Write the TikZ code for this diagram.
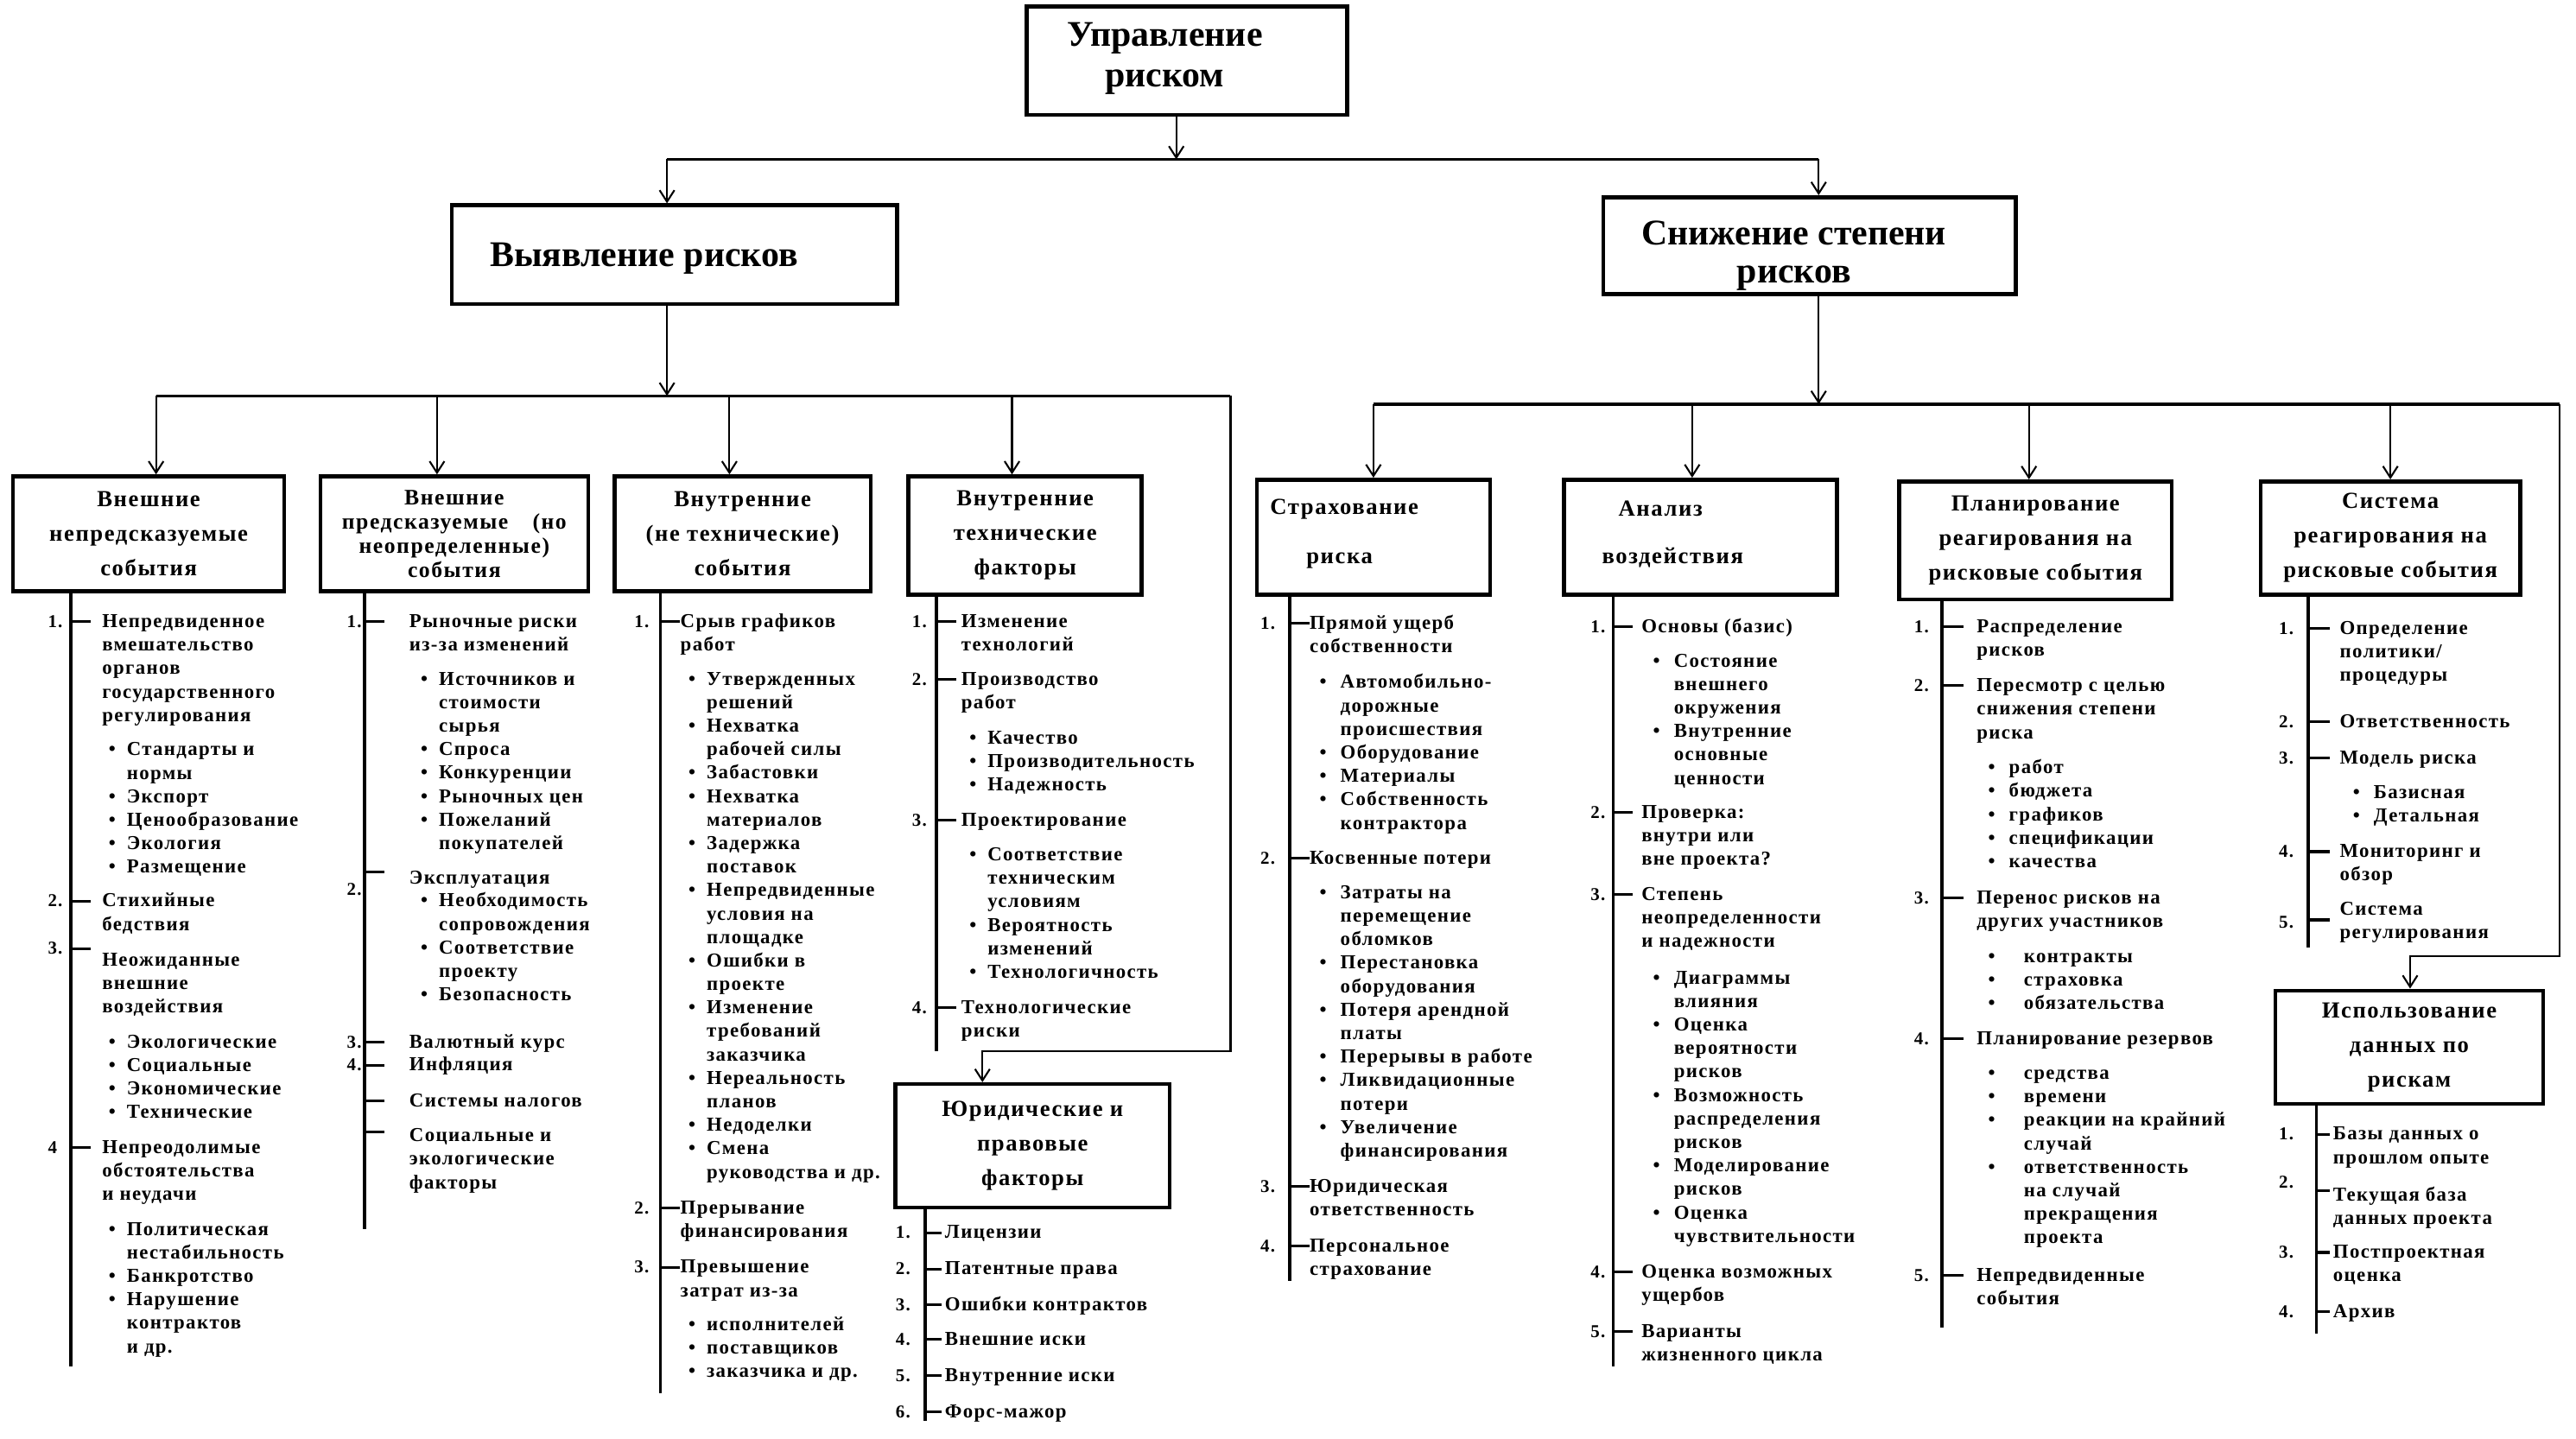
\documentclass[tikz,border=0pt]{standalone}
\usepackage{fontspec}
\usetikzlibrary{arrows.meta}
\newfontfamily\bodyfont[LetterSpace=6]{Liberation Serif Bold}
\newfontfamily\topfont{Liberation Serif Bold}
\newcommand\txtl[1]{\begin{tabular}[t]{@{}l@{}}#1\end{tabular}}
\newcommand\txtc[1]{\begin{tabular}[t]{@{}c@{}}#1\end{tabular}}
\newcommand\bul[1][11pt]{\makebox[#1][l]{•}}
\newcommand\nbul[1][11pt]{\hspace*{#1}}
\tikzset{
  box/.style={draw, line width=2.4pt, inner sep=0pt, align=center, font=\bodyfont\fontsize{14}{21}\selectfont},
  topbox/.style={draw, line width=2.4pt, inner sep=0pt},
  toptxt/.style={anchor=base, inner sep=0pt, font=\topfont\fontsize{22}{25}\selectfont},
  btxt/.style={anchor=base west, inner sep=0pt, font=\bodyfont\fontsize{14}{21}\selectfont},
  txt/.style={anchor=base west, inner sep=0pt, font=\bodyfont\fontsize{12}{14.3}\selectfont},
  num/.style={anchor=base west, inner sep=0pt, font=\bodyfont\fontsize{11}{13}\selectfont},
  arr/.style={line width=1.1pt, -{Straight Barb[length=7pt,width=9pt]}},
  barln/.style={line width=1.8pt},
  colline/.style={line width=2pt},
  tickln/.style={line width=1.6pt}
}
\begin{document}
\begin{tikzpicture}[x=1pt,y=-1pt]
\useasboundingbox (0,0) rectangle (1568,876);

% ---------- top level ----------
\node[topbox, minimum width=195pt, minimum height=66pt] (top) at (722.5,37) {};
\node[toptxt] (toptx) at (709,28) {\txtc{Управление\\риском}};
\node[topbox, minimum width=271pt, minimum height=60pt] (L) at (410.5,155) {};
\node[toptxt] (Ltx) at (392,162) {Выявление рисков};
\node[topbox, minimum width=251pt, minimum height=59pt] (R) at (1101.5,149.5) {};
\node[toptxt] (Rtx) at (1092,149) {\txtc{Снижение степени\\[-2pt]рисков}};

\coordinate (j0) at (716,97);
\coordinate (j0l) at (406,97);
\coordinate (j0r) at (1107,97);
\draw[arr] (top.south -| j0) -- (j0);
\draw[barln] (j0l) -- (j0r);
\draw[arr] (j0l) -- (j0l |- L.north);
\draw[arr] (j0r) -- (j0r |- R.north);

% ---------- second level boxes ----------
\node[box, minimum width=165pt, minimum height=70pt] (b1) at (90.5,325) {Внешние\\непредсказуемые\\события};
\node[box, minimum width=163pt, minimum height=70pt, font=\bodyfont\fontsize{13.5}{14.7}\selectfont] (b2) at (276.5,325) {Внешние\\предсказуемые\hspace{1.1em}(но\\неопределенные)\\события};
\node[box, minimum width=156pt, minimum height=70pt] (b3) at (452,325) {Внутренние\\(не технические)\\события};
\node[box, minimum width=142pt, minimum height=72pt] (b4) at (624,326) {Внутренние\\технические\\факторы};
\node[box, minimum width=167pt, minimum height=75pt] (bj) at (628.5,697.5) {Юридические и\\правовые\\факторы};

\node[box, minimum width=142pt, minimum height=70pt] (b5) at (836,327) {};
\node[btxt] (b5ta) at (773,313) {Страхование};
\node[btxt] (b5tb) at (795,343) {риска};
\node[box, minimum width=166pt, minimum height=70pt] (b6) at (1035,327) {};
\node[btxt] (b6ta) at (985,314) {Анализ};
\node[btxt] (b6tb) at (975,343) {воздействия};
\node[box, minimum width=166pt, minimum height=72pt] (b7) at (1239,329) {Планирование\\реагирования на\\рисковые события};
\node[box, minimum width=158pt, minimum height=69pt] (b8) at (1455,327.5) {Система\\реагирования на\\рисковые события};
\node[box, minimum width=163pt, minimum height=69pt] (b9) at (1466.5,637.5) {Использование\\данных по\\рискам};

% ---------- left branch connectors ----------
\coordinate (j1) at (406,241);
\coordinate (j1a) at (95,241);
\coordinate (j1b) at (266,241);
\coordinate (j1c) at (444,241);
\coordinate (j1d) at (616,241);
\coordinate (j1e) at (749,241);
\coordinate (j1k) at (749,640);
\coordinate (j1m) at (598,640);
\draw[arr] (L.south -| j1) -- (j1);
\draw[barln] (j1a) -- (j1e);
\draw[arr] (j1a) -- (j1a |- b1.north);
\draw[arr] (j1b) -- (j1b |- b2.north);
\draw[arr] (j1c) -- (j1c |- b3.north);
\draw[arr] (j1d) -- (j1d |- b4.north);
\draw[arr] (j1e) -- (j1k) -- (j1m) -- (j1m |- bj.north);

% ---------- right branch connectors ----------
\coordinate (j2) at (1107,246);
\coordinate (j2a) at (836,246);
\coordinate (j2b) at (1030,246);
\coordinate (j2c) at (1235,246);
\coordinate (j2d) at (1455,246);
\coordinate (j2e) at (1558,246);
\coordinate (j2k) at (1558,582);
\coordinate (j2m) at (1467,582);
\draw[arr] (R.south -| j2) -- (j2);
\draw[barln] (j2a) -- (j2e);
\draw[arr] (j2a) -- (j2a |- b5.north);
\draw[arr] (j2b) -- (j2b |- b6.north);
\draw[arr] (j2c) -- (j2c |- b7.north);
\draw[arr] (j2d) -- (j2d |- b8.north);
\draw[arr] (j2e) -- (j2k) -- (j2m) -- (j2m |- b9.north);

% ---------- column 1 ----------
\coordinate (L1) at (43,832);
\node[num] (n1a) at (29,382) {1.};
\node[txt] (t1a) at (62,382) {\txtl{Непредвиденное\\вмешательство\\органов\\государственного\\регулирования}};
\node[txt] (t1b) at (66,460) {\txtl{\bul Стандарты и\\\nbul нормы\\\bul Экспорт\\\bul Ценообразование\\\bul Экология\\\bul Размещение}};
\node[num] (n1b) at (29,552) {2.};
\node[txt] (t1c) at (62,552) {\txtl{Стихийные\\бедствия}};
\node[num] (n1c) at (29,581) {3.};
\node[txt] (t1d) at (62,588) {\txtl{Неожиданные\\внешние\\воздействия}};
\node[txt] (t1e) at (66,638) {\txtl{\bul Экологические\\\bul Социальные\\\bul Экономические\\\bul Технические}};
\node[num] (n1d) at (29,702) {4};
\node[txt] (t1f) at (62,702) {\txtl{Непреодолимые\\обстоятельства\\и неудачи}};
\node[txt] (t1g) at (66,752) {\txtl{\bul Политическая\\\nbul нестабильность\\\bul Банкротство\\\bul Нарушение\\\nbul контрактов\\\nbul и др.}};
\draw[colline] (b1.south -| L1) -- (L1);
\foreach \n in {n1a,n1b,n1c,n1d} \draw[tickln] (L1 |- \n) -- ++(12,0);

% ---------- column 2 ----------
\coordinate (L2) at (222,748);
\node[num] (n2a) at (211,382) {1.};
\node[txt] (t2a) at (249,382) {\txtl{Рыночные риски\\из-за изменений}};
\node[txt] (t2b) at (256,417) {\txtl{\bul Источников и\\\nbul стоимости\\\nbul сырья\\\bul Спроса\\\bul Конкуренции\\\bul Рыночных цен\\\bul Пожеланий\\\nbul покупателей}};
\coordinate (k2b) at (222,531);
\node[num] (n2b) at (211,545) {2.};
\node[txt] (t2c) at (249,538) {Эксплуатация};
\node[txt] (t2d) at (256,552) {\txtl{\bul Необходимость\\\nbul сопровождения\\\bul Соответствие\\\nbul проекту\\\bul Безопасность}};
\node[num] (n2c) at (211,638) {3.};
\node[txt] (t2e) at (249,638) {Валютный курс};
\node[num] (n2d) at (211,652) {4.};
\node[txt] (t2f) at (249,652) {Инфляция};
\coordinate (k2e) at (222,670);
\node[txt] (t2g) at (249,674) {Системы налогов};
\coordinate (k2f) at (222,689);
\node[txt] (t2h) at (249,695) {\txtl{Социальные и\\экологические\\факторы}};
\draw[colline] (b2.south -| L2) -- (L2);
\foreach \n in {n2a,k2b,n2c,n2d,k2e,k2f} \draw[tickln] (L2 |- \n) -- ++(12,0);

% ---------- column 3 ----------
\coordinate (L3) at (402,848);
\node[num] (n3a) at (386,382) {1.};
\node[txt] (t3a) at (414,382) {\txtl{Срыв графиков\\работ}};
\node[txt] (t3b) at (419,417) {\txtl{\bul Утвержденных\\\nbul решений\\\bul Нехватка\\\nbul рабочей силы\\\bul Забастовки\\\bul Нехватка\\\nbul материалов\\\bul Задержка\\\nbul поставок\\\bul Непредвиденные\\\nbul условия на\\\nbul площадке\\\bul Ошибки в\\\nbul проекте\\\bul Изменение\\\nbul требований\\\nbul заказчика\\\bul Нереальность\\\nbul планов\\\bul Недоделки\\\bul Смена\\\nbul руководства и др.}};
\node[num] (n3b) at (386,739) {2.};
\node[txt] (t3c) at (414,739) {\txtl{Прерывание\\финансирования}};
\node[num] (n3c) at (386,775) {3.};
\node[txt] (t3d) at (414,775) {\txtl{Превышение\\затрат из-за}};
\node[txt] (t3e) at (419,810) {\txtl{\bul исполнителей\\\bul поставщиков\\\bul заказчика и др.}};
\draw[colline] (b3.south -| L3) -- (L3);
\foreach \n in {n3a,n3b,n3c} \draw[tickln] (L3 |- \n) -- ++(12,0);

% ---------- column 4 ----------
\coordinate (L4) at (570,640);
\node[num] (n4a) at (555,382) {1.};
\node[txt] (t4a) at (585,382) {\txtl{Изменение\\технологий}};
\node[num] (n4b) at (555,417) {2.};
\node[txt] (t4b) at (585,417) {\txtl{Производство\\работ}};
\node[txt] (t4c) at (590,453) {\txtl{\bul Качество\\\bul Производительность\\\bul Надежность}};
\node[num] (n4c) at (555,503) {3.};
\node[txt] (t4d) at (585,503) {Проектирование};
\node[txt] (t4e) at (590,524) {\txtl{\bul Соответствие\\\nbul техническим\\\nbul условиям\\\bul Вероятность\\\nbul изменений\\\bul Технологичность}};
\node[num] (n4d) at (555,617) {4.};
\node[txt] (t4f) at (585,617) {\txtl{Технологические\\риски}};
\draw[colline] (b4.south -| L4) -- (L4);
\foreach \n in {n4a,n4b,n4c,n4d} \draw[tickln] (L4 |- \n) -- ++(12,0);

% ---------- legal factors ----------
\coordinate (Lj) at (563,865);
\node[num] (nj1) at (545,754) {1.};
\node[txt] (tj1) at (575,754) {Лицензии};
\node[num] (nj2) at (545,776) {2.};
\node[txt] (tj2) at (575,776) {Патентные права};
\node[num] (nj3) at (545,798) {3.};
\node[txt] (tj3) at (575,798) {Ошибки контрактов};
\node[num] (nj4) at (545,819) {4.};
\node[txt] (tj4) at (575,819) {Внешние иски};
\node[num] (nj5) at (545,841) {5.};
\node[txt] (tj5) at (575,841) {Внутренние иски};
\node[num] (nj6) at (545,863) {6.};
\node[txt] (tj6) at (575,863) {Форс-мажор};
\draw[colline] (bj.south -| Lj) -- (Lj);
\foreach \n in {nj1,nj2,nj3,nj4,nj5,nj6} \draw[tickln] (Lj |- \n) -- ++(10,0);

% ---------- column 5 ----------
\coordinate (L5) at (785,780);
\node[num] (n5a) at (767,383) {1.};
\node[txt] (t5a) at (797,383) {\txtl{Прямой ущерб\\собственности}};
\node[txt] (t5b) at (803,419) {\txtl{\bul[9pt] Автомобильно-\\\nbul[9pt] дорожные\\\nbul[9pt] происшествия\\\bul[9pt] Оборудование\\\bul[9pt] Материалы\\\bul[9pt] Собственность\\\nbul[9pt] контрактора}};
\node[num] (n5b) at (767,526) {2.};
\node[txt] (t5c) at (797,526) {Косвенные потери};
\node[txt] (t5d) at (803,547) {\txtl{\bul[9pt] Затраты на\\\nbul[9pt] перемещение\\\nbul[9pt] обломков\\\bul[9pt] Перестановка\\\nbul[9pt] оборудования\\\bul[9pt] Потеря арендной\\\nbul[9pt] платы\\\bul[9pt] Перерывы в работе\\\bul[9pt] Ликвидационные\\\nbul[9pt] потери\\\bul[9pt] Увеличение\\\nbul[9pt] финансирования}};
\node[num] (n5c) at (767,726) {3.};
\node[txt] (t5e) at (797,726) {\txtl{Юридическая\\ответственность}};
\node[num] (n5d) at (767,762) {4.};
\node[txt] (t5f) at (797,762) {\txtl{Персональное\\страхование}};
\draw[colline] (b5.south -| L5) -- (L5);
\foreach \n in {n5a,n5b,n5c,n5d} \draw[tickln] (L5 |- \n) -- ++(12,0);

% ---------- column 6 ----------
\coordinate (L6) at (982,832);
\node[num] (n6a) at (968,385) {1.};
\node[txt] (t6a) at (999,385) {Основы (базис)};
\node[txt] (t6b) at (1006,406) {\txtl{\bul[9pt] Состояние\\\nbul[9pt] внешнего\\\nbul[9pt] окружения\\\bul[9pt] Внутренние\\\nbul[9pt] основные\\\nbul[9pt] ценности}};
\node[num] (n6b) at (968,498) {2.};
\node[txt] (t6c) at (999,498) {\txtl{Проверка:\\внутри или\\вне проекта?}};
\node[num] (n6c) at (968,548) {3.};
\node[txt] (t6d) at (999,548) {\txtl{Степень\\неопределенности\\и надежности}};
\node[txt] (t6e) at (1006,599) {\txtl{\bul[9pt] Диаграммы\\\nbul[9pt] влияния\\\bul[9pt] Оценка\\\nbul[9pt] вероятности\\\nbul[9pt] рисков\\\bul[9pt] Возможность\\\nbul[9pt] распределения\\\nbul[9pt] рисков\\\bul[9pt] Моделирование\\\nbul[9pt] рисков\\\bul[9pt] Оценка\\\nbul[9pt] чувствительности}};
\node[num] (n6d) at (968,778) {4.};
\node[txt] (t6f) at (999,778) {\txtl{Оценка возможных\\ущербов}};
\node[num] (n6e) at (968,814) {5.};
\node[txt] (t6g) at (999,814) {\txtl{Варианты\\жизненного цикла}};
\draw[colline] (b6.south -| L6) -- (L6);
\foreach \n in {n6a,n6b,n6c,n6d,n6e} \draw[tickln] (L6 |- \n) -- ++(12,0);

% ---------- column 7 ----------
\coordinate (L7) at (1182,808);
\node[num] (n7a) at (1165,385) {1.};
\node[txt] (t7a) at (1203,385) {\txtl{Распределение\\рисков}};
\node[num] (n7b) at (1165,421) {2.};
\node[txt] (t7b) at (1203,421) {\txtl{Пересмотр с целью\\снижения степени\\риска}};
\node[txt] (t7c) at (1210,471) {\txtl{\bul[9pt] работ\\\bul[9pt] бюджета\\\bul[9pt] графиков\\\bul[9pt] спецификации\\\bul[9pt] качества}};
\node[num] (n7c) at (1165,550) {3.};
\node[txt] (t7d) at (1203,550) {\txtl{Перенос рисков на\\других участников}};
\node[txt] (t7e) at (1210,586) {\txtl{\bul[18pt] контракты\\\bul[18pt] страховка\\\bul[18pt] обязательства}};
\node[num] (n7d) at (1165,636) {4.};
\node[txt] (t7f) at (1203,636) {Планирование резервов};
\node[txt] (t7g) at (1210,657) {\txtl{\bul[18pt] средства\\\bul[18pt] времени\\\bul[18pt] реакции на крайний\\\nbul[18pt] случай\\\bul[18pt] ответственность\\\nbul[18pt] на случай\\\nbul[18pt] прекращения\\\nbul[18pt] проекта}};
\node[num] (n7e) at (1165,780) {5.};
\node[txt] (t7h) at (1203,780) {\txtl{Непредвиденные\\события}};
\draw[colline] (b7.south -| L7) -- (L7);
\foreach \n in {n7a,n7b,n7c,n7d,n7e} \draw[tickln] (L7 |- \n) -- ++(13,0);

% ---------- column 8 ----------
\coordinate (L8) at (1405,577);
\node[num] (n8a) at (1387,386) {1.};
\node[txt] (t8a) at (1424,386) {\txtl{Определение\\политики/\\процедуры}};
\node[num] (n8b) at (1387,443) {2.};
\node[txt] (t8b) at (1424,443) {Ответственность};
\node[num] (n8c) at (1387,465) {3.};
\node[txt] (t8c) at (1424,465) {Модель риска};
\node[txt] (t8d) at (1432,486) {\txtl{\bul[9pt] Базисная\\\bul[9pt] Детальная}};
\node[num] (n8d) at (1387,522) {4.};
\node[txt] (t8e) at (1424,522) {\txtl{Мониторинг и\\обзор}};
\coordinate (k8e) at (1405,560);
\node[num] (n8e) at (1387,565) {5.};
\node[txt] (t8f) at (1424,557) {\txtl{Система\\регулирования}};
\draw[colline] (b8.south -| L8) -- (L8);
\foreach \n in {n8a,n8b,n8c,n8d,k8e} \draw[tickln] (L8 |- \n) -- ++(13,0);

% ---------- column 9 ----------
\coordinate (L9) at (1410,812);
\node[num] (n9a) at (1387,694) {1.};
\node[txt] (t9a) at (1420,694) {\txtl{Базы данных о\\прошлом опыте}};
\coordinate (k9b) at (1410,725);
\node[num] (n9b) at (1387,723) {2.};
\node[txt] (t9b) at (1420,731) {\txtl{Текущая база\\данных проекта}};
\node[num] (n9c) at (1387,766) {3.};
\node[txt] (t9c) at (1420,766) {\txtl{Постпроектная\\оценка}};
\node[num] (n9d) at (1387,802) {4.};
\node[txt] (t9d) at (1420,802) {Архив};
\draw[colline] (b9.south -| L9) -- (L9);
\foreach \n in {n9a,k9b,n9c,n9d} \draw[tickln] (L9 |- \n) -- ++(8,0);
\end{tikzpicture}
\end{document}
